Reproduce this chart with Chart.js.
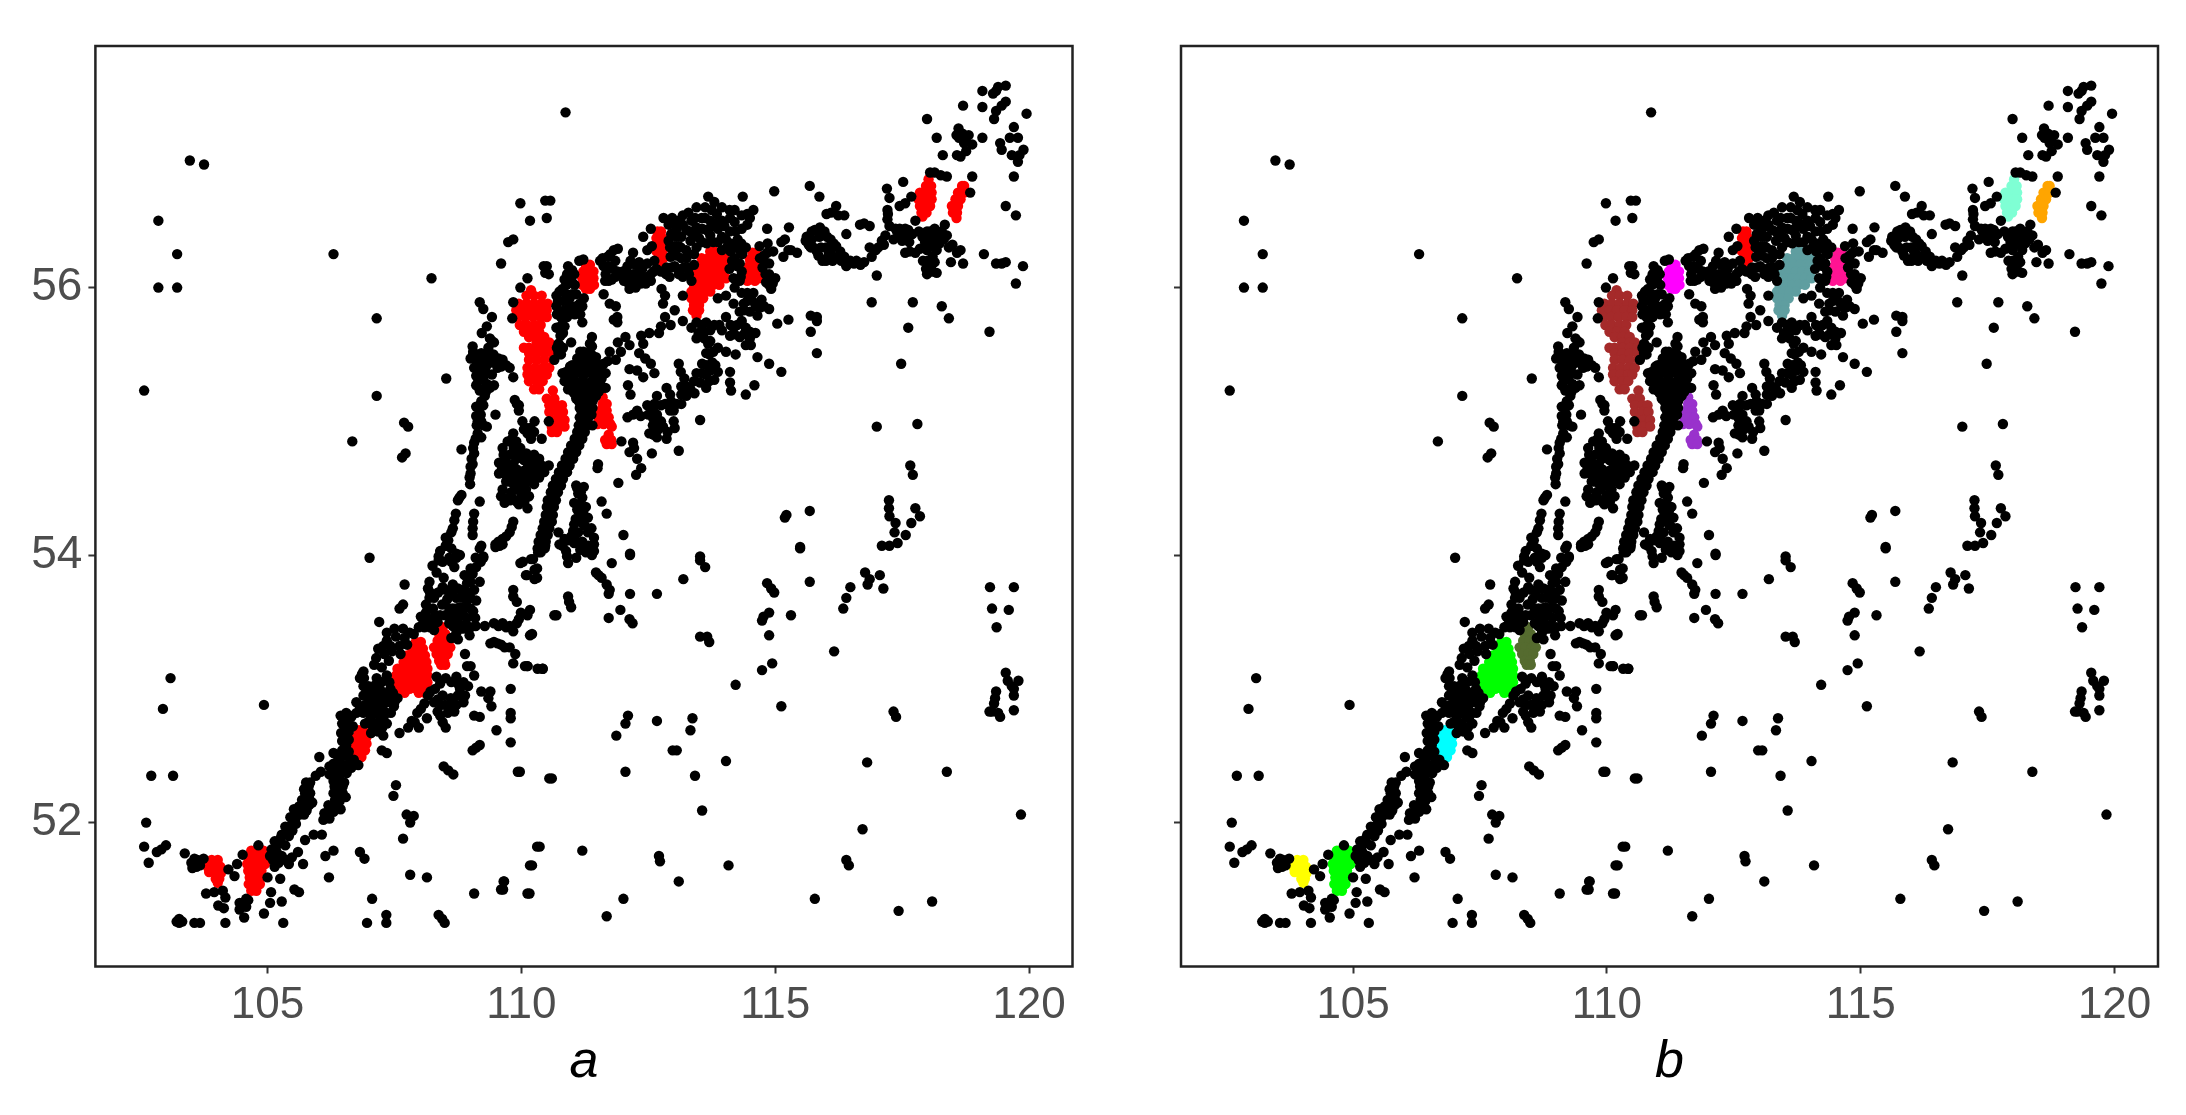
<!DOCTYPE html>
<html>
<head>
<meta charset="utf-8">
<title>a b</title>
<script src="https://cdn.jsdelivr.net/npm/chart.js@4"></script>
<style>
  html, body { margin: 0; padding: 0; background: #fff; }
  canvas { position: absolute; top: 0; }
  #chartA { left: 0; }
  #chartB { left: 1093px; }
</style>
</head>
<body>
<canvas id="chartA" width="1093" height="1115"></canvas>
<canvas id="chartB" width="1093" height="1115"></canvas>
<script>
// Ejes
const xTicks = [105, 110, 115, 120];
const yTicks = [52, 54, 56];
const panelNames = ['a', 'b'];

// Puntos negros, [lon, lat], por zonas
const puntosOeste = [[103.47,56.95],[103.75,56.92],[102.85,56.5],[103.22,56.25],[106.3,56.25],[102.85,56],[103.22,56],[108.23,56.07],[107.15,55.77],[108.52,55.32],[102.57,55.23],[107.15,55.19],[107.69,54.99],[107.77,54.96],[106.67,54.85],[107.72,54.76],[107.65,54.73],[107.01,53.98],[103.09,53.08],[102.94,52.85],[104.93,52.88],[102.71,52.35],[103.14,52.35],[102.61,52],[102.57,51.82],[102.66,51.7],[102.82,51.78],[102.91,51.8],[103,51.83],[103.37,51.77],[103.56,51.73],[103.6,51.67],[103.74,51.73]];
const puntosSur = [[103.79,51.47],[103.95,51.48],[104.12,51.49],[104.17,51.44],[104.03,51.38],[104.14,51.36],[103.26,51.28],[103.26,51.25],[103.21,51.26],[103.32,51.26],[103.56,51.25],[103.67,51.25],[104.17,51.25],[104.54,51.29],[104.93,51.32],[105.31,51.25],[104.45,51.4],[104.58,51.43],[104.58,51.37],[104.51,51.39],[104.35,51.6],[104.23,51.65],[104.4,51.69],[104.51,51.76],[104.82,51.83],[105.07,51.48],[105.05,51.4],[105.28,51.41],[105.53,51.5],[105.62,51.48],[105,51.59],[105.25,51.58],[106.82,51.78],[106.91,51.73],[107.06,51.43],[106.96,51.25],[107.34,51.31],[107.34,51.25],[108.37,51.31],[108.44,51.28],[108.49,51.25],[109.07,51.47],[109.65,51.56],[109.6,51.5],[110.12,51.47],[110.17,51.68],[110.31,51.82],[106.14,51.75],[106.3,51.79],[106.21,51.59],[107.81,51.61],[108.14,51.59],[107.67,51.88],[107.74,52.06],[107.88,52.05],[107.81,52],[107.53,52.28],[107.48,52.2],[108.47,52.42],[108.56,52.39],[108.66,52.36],[109.93,52.38],[110.55,52.33],[109.97,52.38],[110.6,52.33],[105.91,51.91],[106.07,51.91]];
const bandaSuroeste = [[105.11,51.72],[105.18,51.78],[105.14,51.86],[105.28,51.91],[105.35,51.83],[105.28,51.75],[105.14,51.67],[105.42,51.69],[105.6,51.78],[105.7,51.69],[105.74,51.87],[105.21,51.84],[105.08,51.8],[105.49,51.94],[105.42,51.9],[105.56,51.99],[105.5,52.02],[105.63,52.06],[105.56,52.07],[105.77,52.09],[105.7,52.12],[105.88,52.15],[105.82,52.13],[105.77,52.19],[105.84,52.22],[105.81,52.27],[105.72,52.25],[106.16,52.04],[106.3,52.08],[106.22,52.03],[106.44,52.1],[106.33,52.17],[106.25,52.12],[106.54,52.19],[106.42,52.16],[106.44,52.24],[106.36,52.23],[106.51,52.3],[106.4,52.28],[106.3,52.31],[106.3,52.38],[106.47,52.38],[106.4,52.34],[106.65,52.41],[106.56,52.37],[106.79,52.43],[106.7,52.47],[106.02,52.49],[106.05,52.38],[105.95,52.35],[106.3,52.52],[106.47,52.54],[106.58,52.5],[106.44,52.8],[106.47,52.74],[106.51,52.68],[106.47,52.61],[106.58,52.72],[106.6,52.62],[107.25,52.54],[107.35,52.52]];
const rellenoSuroeste = [[105.05,51.75],[105.22,51.7],[105.36,51.72],[105.48,51.74],[105.25,51.88],[105.38,51.92],[105.35,51.97],[105.47,51.98],[105.45,52.04],[105.55,52.03],[105.52,52.1],[105.62,52.12],[105.72,52.06],[105.78,52.14],[105.68,52.17],[105.82,52.18],[105.74,52.22],[105.76,52.3],[105.84,52.3],[106.1,52.02],[106.2,52.07],[106.12,52.07],[106.28,52.12],[106.35,52.12],[106.2,52.13],[106.38,52.2],[106.3,52.22],[106.48,52.22],[106.32,52.27],[106.48,52.27],[106.35,52.32],[106.42,52.32],[106.22,52.36],[106.38,52.4],[106.22,52.42],[106.48,52.42],[106.3,52.44],[106.56,52.43],[106.42,52.46],[106.65,52.46],[106.5,52.5],[106.38,52.5],[106.6,52.53],[106.55,52.58],[106.55,52.65],[106.45,52.67],[106.6,52.68],[106.55,52.76],[106.62,52.8],[106.55,52.82],[103.5,51.7],[103.62,51.72],[103.52,51.66],[103.67,51.68],[104.45,51.35],[104.55,51.4],[104.62,51.42]];
const bandaMedia = [[107.04,52.67],[107.18,52.68],[107.28,52.65],[107.14,52.74],[107.35,52.74],[107.04,52.79],[107.21,52.8],[107.35,52.82],[107.49,52.87],[106.89,52.82],[106.75,52.82],[106.65,52.79],[107,52.9],[107.18,52.9],[107.35,52.9],[107.56,52.93],[106.75,52.9],[106.89,52.95],[107.07,52.98],[107.25,52.98],[107.42,53],[107.25,53.05],[106.89,53.02],[106.82,53.08],[106.89,53.13],[106.68,52.72],[106.92,52.74],[107.09,52.86],[107.26,52.86],[106.97,52.86],[107.6,52.67],[107.77,52.71],[107.98,52.71],[107.84,52.76],[107.95,52.82],[108.09,52.89],[107.9,52.75],[108.02,52.85],[108.16,52.95],[108.14,52.78],[108.51,52.71],[108.45,52.75],[108.51,53.08],[108.72,53.09],[108.86,53.05],[108.79,53],[108.21,52.98],[108.28,52.9],[108.35,52.83],[108.68,52.83],[108.61,52.93],[108.86,52.9],[108.89,52.95],[108.33,53.09],[108.45,52.95],[108.62,53.05],[108.5,52.88],[109.07,52.8],[109.18,52.79],[109.21,52.98],[109.39,52.98],[109.35,52.93],[109.41,52.87],[109.51,52.69],[109.79,53],[109.79,52.82],[109.79,52.78],[109.79,52.6],[109.18,52.58],[109.11,52.56],[109.04,52.54],[108.89,53.26],[108.93,53.17],[109,53.17],[109.07,53.1],[107.35,53.42],[107.67,53.45],[107.88,53.41],[107.53,53.39],[107.28,53.32],[107.42,53.32],[107.14,53.23],[107.25,53.16],[107.39,53.21],[106.86,53.11],[107.2,53.5],[107.7,53.78],[107.67,53.63],[107.6,53.6]];
const rellenoMedia = [[106.98,52.75],[107.07,52.72],[107.26,52.71],[107,52.82],[107.13,52.84],[107.28,52.78],[107.43,52.82],[106.82,52.87],[106.92,52.88],[107.1,52.93],[107.25,52.93],[107.43,52.93],[107.5,52.9],[106.98,52.96],[107.17,52.97],[107.33,52.95],[107.47,52.97],[106.99,53.02],[107.13,53.03],[107.4,53.05],[106.9,53.08],[107.15,53.08],[107.35,53.1],[107.1,53.18],[107.3,53.26],[107.18,53.3],[107.45,53.28],[107.6,53.32],[107.7,53.38],[107.8,53.42],[107.5,53.45],[107.75,53.33],[107.35,53.36],[107.62,53.26],[108.75,53.04],[108.95,53.02],[108.4,53.04],[108.3,53],[108.35,52.92],[108.42,52.88],[108.55,52.82],[108.6,52.88],[108.75,52.95],[108.72,52.88],[108.4,52.8]];
const bandaNorte = [[108.51,54.07],[108.79,54],[108.58,53.98],[108.37,53.96],[108.68,53.91],[108.33,53.87],[108.47,53.83],[108.19,53.8],[108.16,53.75],[108.19,53.68],[108.12,53.63],[108.26,53.6],[108.02,53.54],[108.16,53.52],[108.09,53.46],[108.51,53.74],[108.54,53.67],[108.44,53.63],[108.65,53.6],[108.3,53.55],[108.36,53.72],[109.18,54.05],[109.25,53.98],[109.11,53.91],[109.04,53.86],[109.18,53.8],[108.93,53.79],[108.82,53.74],[109.07,53.74],[108.72,53.68],[108.93,53.66],[109.11,53.66],[108.79,53.61],[109,53.6],[108.93,53.53],[109.09,53.53],[108.68,53.54],[109,53.46],[108.86,53.45],[108.72,53.42],[108.58,53.49],[108.95,53.72],[109,53.8],[108.83,53.55],[109.84,53.69],[109.91,53.65],[110.12,53.55],[109.95,53.52],[109.28,53.47],[109.46,53.49],[109.63,53.49],[109.77,53.47],[109.84,53.43],[109.91,53.49],[109.55,53.47],[109.7,53.46],[110.17,53.4],[109.39,53.34],[109.53,53.34],[109.67,53.31],[109.77,53.31],[109.46,53.35],[109.6,53.33],[109.88,53.26],[109.84,53.19],[110.07,53.17],[110.32,53.15],[110.42,53.15],[110.12,53.17],[110.65,53.55],[109.98,53.94],[110.09,53.85],[110.26,53.89],[110.26,53.82],[110.19,53.97],[110.33,54.02],[110.47,54.07],[109.49,54.06],[109.63,54.08],[109.57,54.07],[110.38,54.02],[110.23,53.97],[110.03,53.95],[110.31,53.9],[110.11,53.85],[110.31,53.83]];
const rellenoNorte = [[108.25,53.5],[108.35,53.5],[108.05,53.48],[108.2,53.46],[108.28,53.44],[107.98,53.46],[108.4,53.55],[108.5,53.55],[108.6,53.56],[108.75,53.5],[108.8,53.45],[108.65,53.47],[108.58,53.6],[108.72,53.6],[108.87,53.6],[108.85,53.68],[109,53.68],[109.05,53.58],[108.9,53.48],[108.8,53.55],[108.6,53.72],[108.65,53.78],[108.45,53.76],[108.75,53.75],[108.88,53.85],[109,53.9],[109.1,53.98],[109.2,53.95],[108.25,53.92],[108.45,53.95],[108.62,53.95],[108.72,53.98],[108.4,54.03],[108.62,54.05],[108.2,53.72],[108.28,53.68],[108.12,53.57],[109.1,53.47],[108.98,53.4],[108.62,53.38],[108.75,53.37]];
const franjaIzquierda = [[109.98,56.63],[110.47,56.65],[110.57,56.65],[110.17,56.5],[110.5,56.52],[109.84,56.36],[109.74,56.34],[109.6,56.18],[110.12,56.07],[109.98,56],[110.44,56.16],[110.47,56.11],[109.84,55.89],[109.82,55.77],[109.18,55.89],[109.25,55.84],[109.42,55.78],[109.32,55.71],[109.22,55.66],[109.04,55.56],[109.46,55.59],[109.35,55.55],[109.21,55.51],[109,55.47],[109.18,55.46],[109.39,55.47],[109.63,55.46],[109.07,55.4],[109.32,55.42],[109.53,55.4],[109.77,55.4],[109.18,55.35],[109.42,55.35],[109.84,55.33],[109.32,55.28],[109.11,55.27],[109.18,55.23],[109.46,55.27],[109.28,55.19],[109.25,55.4],[109.11,55.34],[109.3,55.5],[109.45,55.44],[109.6,55.41],[109.25,55.24],[109.21,55.15],[109.11,55.11],[109.11,55.04],[109.21,55],[109.32,54.96],[109.14,54.91],[109.07,54.84],[109.21,54.88],[108.82,54.79],[109.07,54.76],[109.04,54.68],[109,54.61],[108.99,54.53],[108.82,54.45],[108.75,54.41],[109.18,54.4],[108.71,54.31],[109.07,54.31],[108.65,54.2],[109.04,54.2],[109.04,54.15],[108.51,54.13],[108.54,54.07],[109.21,54.07],[109.25,53.99],[108.37,53.99],[108.72,54.01],[109.49,55.05],[109.91,55.13],[109.95,55.08]];
const rellenoIzquierda = [[109.05,55.5],[109.1,55.46],[109.25,55.46],[109.3,55.37],[109.45,55.5],[109.5,55.45],[109.15,55.4],[109.35,55.46],[109.7,55.42],[109.55,55.47],[109.15,55.3],[109.25,55.33],[109.38,55.25],[109.3,55.22],[109.25,55.12],[109.18,55.1],[109.2,55.05],[109.25,54.97],[109.12,54.97],[109.1,54.87],[109.05,54.8],[109.14,55],[109.02,54.72],[109,54.66],[109.42,55.6],[109.38,55.62],[109.05,55.52],[108.98,54.58],[108.78,54.43],[108.68,54.26],[108.62,54.17],[108.56,54.11],[109.05,54.25],[109.95,55.12],[109.87,55.16]];
const manchaInterior = [[109.84,54.91],[109.84,54.83],[109.98,54.8],[109.63,54.8],[109.77,54.75],[110.19,54.73],[110.05,54.71],[109.56,54.69],[109.84,54.68],[110.4,54.67],[109.56,54.61],[109.77,54.61],[110.05,54.63],[110.23,54.61],[110.54,54.67],[109.77,54.55],[109.98,54.56],[110.19,54.56],[109.88,54.49],[110.09,54.49],[109.63,54.49],[109.67,54.39],[109.91,54.4],[110.12,54.35],[109.98,54.73],[109.7,54.69],[109.91,54.64],[110.13,54.66],[110.3,54.68],[109.7,54.6],[110.09,54.6],[109.83,54.42],[110.1,54.95],[110.26,55],[110.12,54.91],[110.19,54.87],[110.4,54.87],[110.54,55],[109.84,54.25],[109.77,54.17],[109.63,54.12],[109.49,54.08],[110.25,54.92],[109.73,54.85],[109.85,54.58],[110.02,54.52]];
const rellenoMancha = [[109.82,54.87],[109.9,54.85],[110.05,54.94],[110.02,55],[110.18,54.95],[109.85,54.8],[109.95,54.76],[109.65,54.75],[109.9,54.72],[110.1,54.76],[110.25,54.75],[110.35,54.72],[110.2,54.68],[110.3,54.63],[110.45,54.62],[109.62,54.65],[109.75,54.65],[109.9,54.6],[110,54.6],[110.15,54.6],[110.35,54.58],[109.7,54.55],[109.85,54.53],[110.1,54.55],[110.25,54.53],[109.8,54.47],[110,54.45],[110.15,54.44],[109.75,54.43],[109.95,54.38],[110.06,54.4],[109.78,54.41],[109.6,54.44],[109.81,54.21],[109.7,54.14],[109.55,54.1]];
const tronco = [[110.32,54.05],[110.46,54.05],[110.34,54.1],[110.48,54.1],[110.38,54.15],[110.52,54.15],[110.42,54.2],[110.55,54.2],[110.45,54.25],[110.6,54.25],[110.48,54.3],[110.62,54.3],[110.5,54.36],[110.64,54.36],[110.52,54.41],[110.68,54.41],[110.58,54.47],[110.72,54.47],[110.62,54.52],[110.78,54.52],[110.68,54.57],[110.82,54.57],[110.74,54.62],[110.9,54.62],[110.8,54.67],[110.95,54.67],[110.87,54.72],[111.02,54.72],[110.92,54.77],[111.08,54.77],[110.98,54.82],[111.14,54.82],[111.05,54.87],[111.2,54.87],[111.1,54.92],[111.25,54.92],[111.13,54.97],[111.3,54.97],[111.15,55.03],[111.32,55.03],[111.18,55.08],[111.33,55.08],[111.17,55.13],[111.32,55.13],[110.96,55.41],[111.39,55.63],[111.39,55.56],[111.16,55.52],[111.31,55.51],[111.47,55.48],[111.2,55.44],[111.43,55.43],[111.62,55.43],[111,55.42],[110.81,55.36],[111.04,55.35],[111.27,55.36],[111.51,55.36],[111.66,55.36],[110.89,55.31],[111.12,55.29],[111.35,55.29],[111.55,55.28],[110.92,55.24],[111.16,55.23],[111.39,55.23],[111.66,55.25],[111.08,55.17],[111.27,55.16],[111.47,55.19],[111.1,55.38],[111.22,55.3],[111.42,55.33],[111.3,55.42],[111,55.27],[111.04,55.21],[110.98,55.33],[111.52,55.22],[111.58,55.32]];
const rellenoTronco = [[110.4,54.07],[110.42,54.12],[110.46,54.18],[110.5,54.23],[110.54,54.28],[110.57,54.33],[110.58,54.38],[110.6,54.44],[110.65,54.49],[110.7,54.55],[110.76,54.6],[110.82,54.65],[110.88,54.7],[110.95,54.75],[111.02,54.8],[111.08,54.85],[111.15,54.9],[111.18,54.95],[111.22,55],[111.24,55.05],[111.25,55.11],[111.25,55.17],[111.38,55.05],[111.4,55.1],[111.4,54.97],[111.4,55.15],[111.15,55.1],[111.35,55.2],[110.88,55.37],[110.95,55.38],[111.05,55.41],[111.15,55.38],[111.2,55.35],[111.35,55.37],[111.42,55.38],[111.58,55.37],[111.6,55.25],[110.85,55.3],[110.95,55.29],[111.05,55.3],[111.18,55.27],[111.28,55.25],[111.45,55.28],[111.52,55.31],[111,55.23],[111.1,55.24],[111.22,55.2],[111.33,55.19],[111.42,55.17],[111.13,55.15],[111.2,55.13],[111.37,55.12],[111.35,55.45],[111.25,55.48],[111.38,55.5],[111.5,55.43],[111.22,55.52],[111.35,55.58],[111.1,55.47],[111.57,55.4]];
const ramalesCentro = [[111.08,54.52],[111.23,54.51],[111.2,54.43],[111.27,54.36],[111.31,54.28],[111.43,54.13],[111.16,54.28],[111.04,54.23],[111.12,54.17],[111.31,54.17],[111.04,54.39],[111.58,54.4],[111.68,54.31],[111.12,54.46],[111.1,54.34],[111.22,54.23],[111.38,54.2],[111.43,54.03],[111.16,54.04],[110.88,54.03],[110.92,54.11],[110.73,54.17],[110.92,53.94],[111.08,53.98],[110.81,54.07],[111.04,54.09],[111.27,54.02],[111.39,54],[111.43,54.08],[111.78,53.94],[112.14,54],[111.47,53.87],[111.58,53.83],[111.68,53.78],[111.74,53.74],[111.72,53.71],[112.14,53.71],[111.52,53.85],[109.84,53.74],[110.92,53.69],[110.94,53.65],[110.98,53.61],[110.69,53.55],[110.17,53.59],[109.99,53.57],[110.21,53.41],[111.72,53.53],[111.95,53.59],[112.13,53.52],[112.19,53.49],[111.51,54.68],[111.5,54.65],[111.97,54.85],[112.2,54.84],[112.13,54.77],[112.28,54.72],[112.36,54.65],[112.26,54.6],[112.22,54.8],[111.91,54.54],[112.57,54.76],[113.1,54.78],[113.52,55.01],[111.1,54.5],[111.17,54.47],[111.15,54.38],[111.22,54.33],[111.2,54.3],[111.25,54.22],[111.07,54.27],[111.1,54.1],[111.2,54.1],[111.32,54.07],[111.35,54.02],[111.02,54.18],[110.98,54.14],[110.9,53.99],[110.85,54.12],[110.75,54.08]];
const franjaInferior = [[112.09,55.03],[112.28,55.08],[112.48,55.12],[112.55,55.05],[112.59,54.97],[112.52,54.91],[112.67,54.88],[112.86,54.87],[113.02,54.95],[112.79,54.96],[112.67,55.05],[112.83,55.13],[112.67,55.19],[112.86,55.25],[112.75,55.12],[113.06,55.13],[113.25,55.19],[113.41,55.21],[113.64,55.25],[113.8,55.31],[113.87,55.37],[113.76,55.44],[113.64,55.51],[113.56,55.43],[113.45,55.36],[113.21,55.32],[113.1,55.43],[113.14,55.37],[113.68,55.58],[113.87,55.55],[114.03,55.52],[114.22,55.5],[113.64,55.35],[113.52,55.29],[113.33,55.24],[112.2,55.05],[112.62,55.13],[112.93,55.2],[113,55.08],[112.6,55.02],[113.15,55.2],[113.7,55.3],[112.36,55.64],[112.52,55.66],[112.4,55.58],[112.32,55.51],[112.44,55.47],[112.55,55.43],[112.13,55.39],[112.28,55.38],[112.4,55.33],[112.62,55.36],[112.1,55.27],[112.15,55.2],[111.74,55.52],[111.9,55.59],[112.05,55.63],[112.13,55.57],[111.86,55.46],[111.7,55.45],[111.96,55.52],[114.11,55.37],[114.11,55.29],[114.13,55.23],[114.59,55.27],[114.42,55.2],[114.65,55.48],[114.88,55.43],[115.12,55.37],[114.42,55.57],[114.52,55.57],[115.82,55.51],[115.7,55.67],[115.04,55.73],[115.26,55.76],[115.7,55.79],[115.82,55.78],[115.82,55.75]];
const rellenoInferior = [[113.7,55.5],[113.78,55.52],[113.82,55.42],[113.72,55.38],[113.55,55.36],[113.4,55.3],[113.65,55.42],[113.25,55.26],[113.15,55.26],[112.95,55.15],[112.6,55.1],[112.5,55.05],[112.6,54.9],[112.7,54.94],[112.75,55],[112.88,54.92],[113,55],[112.35,55.04],[112.93,55.08],[113.15,55.13]];
const grupoCentral = [[114.34,55.96],[114.57,55.96],[114.18,55.88],[113.87,55.92],[114.03,55.94],[114.73,55.91],[114.88,55.84],[114.65,55.79],[114.38,55.83],[114.34,55.75],[114.5,55.67],[114.18,55.7],[114.03,55.78],[114.11,55.64],[114.3,55.63],[114.61,55.66],[113.49,55.66],[113.64,55.74],[113.45,55.74],[113.72,55.68],[114.38,55.88],[114.45,55.96],[114.78,55.86],[113.02,55.83],[113.18,55.75],[112.83,55.78],[112.75,55.71],[112.71,55.66],[112.94,55.72],[112.76,55.99],[112.83,55.94],[112.79,55.88],[113.18,55.94],[111.62,55.95],[111.74,55.88],[111.86,55.86],[111.89,55.78],[111.89,55.74],[111.82,55.76],[110.69,55.7],[110.77,55.64],[110.73,55.58],[110.73,55.51],[110.65,55.46],[110.85,55.71],[110.98,55.59],[110.5,56.16],[110.54,56.1],[114.45,55.9],[114.55,55.9],[114.62,55.86],[114.7,55.85],[114.5,55.82],[114.3,55.82],[114.25,55.72],[114.12,55.72],[114.42,55.7],[114.38,55.65],[114.2,55.65],[114.5,55.62],[113.9,55.72],[113.8,55.72],[113.55,55.72],[113.35,55.7],[113.6,55.67],[113.45,55.62],[113.6,55.62],[113.72,55.6],[113.95,55.68]];
const bandaAltaOeste = [[110.92,56.16],[111.04,56.1],[110.81,55.99],[110.69,55.94],[110.89,56.02],[110.69,55.86],[111.08,55.86],[111.23,55.92],[111.16,55.8],[111.2,55.74],[110.85,55.83],[111,56.04],[110.95,55.92],[110.82,55.9],[111.05,55.8],[111.14,56.2],[111.22,56.21],[111.9,56.29],[111.82,56.28],[111.7,56.23],[111.62,56.16],[111.66,56.1],[111.78,56.06],[111.55,56.2],[111.89,56.12],[111.8,56.14],[112.09,56.04],[112.13,55.99],[112.28,56.04],[112.2,56.1],[112.09,56.16],[112.2,56.26],[112.32,56.19],[112.4,56.08],[112.55,56.1],[112.48,56.18],[112.4,56.38],[112.55,56.44],[112.48,56.28],[112.57,56.31],[112.35,56.12],[112.66,56.14],[112.75,56.12],[112.86,56.15],[112.94,56.23],[113.02,56.16],[113.1,56.1],[113.02,56.31],[112.9,56.35],[113.06,56.38]];
const rellenoAltaOeste = [[110.75,55.97],[110.88,55.95],[110.72,55.9],[110.95,55.87],[110.75,55.8],[110.9,55.78],[110.98,55.82],[111,55.95],[111.08,55.95],[111.15,55.88],[111.2,55.86],[110.8,55.72],[110.78,55.78],[110.7,55.8],[110.72,55.7],[110.85,56.06],[110.9,56.1],[111,56.13],[110.95,56.08],[111.05,56.02],[110.82,55.66],[110.75,55.57],[110.82,55.55],[110.7,55.55],[110.78,55.5],[111.6,56.22],[111.75,56.25],[111.72,56.16],[111.85,56.2],[111.65,56.05],[111.72,56.05],[111.85,56.08],[111.95,56.1],[112,56.12],[112.15,56.08],[112.25,56.1],[112.02,56.05],[112.08,56.1],[112.15,56.2],[112.25,56.17],[112.25,56],[112.18,56.02],[112.35,56.03],[112.45,56.03],[112.38,56.14],[112.55,56.05],[112.6,56.12],[112.62,56.2],[112.85,56.1],[112.92,56.08],[112.95,56.15],[113.08,56.14],[113.05,56.24],[113.15,56.22],[113,56.27],[112.93,56.3]];
const cupula = [[113.68,56.68],[113.8,56.64],[113.95,56.6],[113.45,56.6],[113.29,56.56],[113.18,56.54],[112.8,56.52],[112.9,56.47],[113.06,56.44],[113.18,56.47],[114.11,56.52],[114.34,56.54],[114.57,56.58],[114.5,56.52],[114.34,56.44],[114.45,56.47],[113.72,56.5],[113.56,56.44],[113.87,56.44],[114.11,56.42],[113.41,56.4],[113.72,56.39],[114.03,56.36],[114.26,56.36],[113.33,56.35],[113.56,56.34],[113.87,56.34],[114.18,56.3],[113.25,56.28],[113.45,56.3],[113.95,56.28],[114.3,56.28],[113.1,56.31],[113.25,56.22],[114.2,56.22],[114.25,56.16],[114.34,56.12],[114.3,56.05],[113.7,56.44],[114,56.46],[113.42,56.52],[113.14,56.3],[113.2,56.15],[113.3,56.1],[114.69,56.31],[114.84,56.26],[114.88,56.18],[115,56.07],[114.92,55.99],[114.81,56.1],[114.88,56.1],[114.78,56.2],[114.84,56.44],[115.27,56.45],[115.19,56.36],[115.12,56.34],[115.31,56.28],[115.16,56.23],[115.43,56.26],[114.96,56.27],[115.26,56.28],[114.36,56.68],[114.98,56.72]];
const rellenoCupula = [[113.15,56.38],[113.25,56.43],[112.95,56.4],[113.1,56.5],[112.97,56.52],[113.02,56.47],[113.35,56.5],[113.32,56.42],[113.45,56.45],[113.55,56.52],[113.62,56.6],[113.75,56.58],[113.62,56.52],[113.85,56.55],[113.8,56.48],[113.95,56.5],[113.95,56.38],[114.05,56.3],[114.12,56.33],[114.22,56.42],[114.33,56.33],[114.35,56.25],[114.3,56.18],[114.32,56.08],[114.42,56.3],[113.65,56.43],[113.5,56.37],[113.65,56.33],[113.78,56.34],[114.12,56.27],[113.4,56.25],[113.4,56.17],[113.3,56.15],[113.35,56.05],[113.18,56.08],[114.15,56.2],[114.1,56.14],[114.18,56.07],[114.2,56],[114.7,56.22],[114.75,56.15],[114.82,56.04],[114.88,56.02],[114.95,56.03],[114.85,56.33],[114.78,56.24],[114.45,56.55],[114.2,56.49],[114.2,56.58],[114.1,56.58]];
const bandaAltaEste = [[115.68,56.76],[115.87,56.68],[116.2,56.61],[116.01,56.55],[116.24,56.54],[116.36,56.54],[116.1,56.56],[116.67,56.47],[116.86,56.46],[116.75,56.48],[116.4,56.4],[115.78,56.43],[115.62,56.38],[115.66,56.32],[115.97,56.42],[116.09,56.36],[116.2,56.31],[115.82,56.27],[115.93,56.2],[116.13,56.2],[116.36,56.23],[116.4,56.16],[116.55,56.18],[116.75,56.19],[116.28,56.27],[116.05,56.27],[115.72,56.36],[116.02,56.22],[116.6,56.2],[116.9,56.23],[116.98,56.28],[116.86,56.3],[117.21,56.58],[117.21,56.51],[117.25,56.46],[117.37,56.44],[117.17,56.39],[117.56,56.44],[117.76,56.5],[117.83,56.42],[117.99,56.42],[118.14,56.44],[118.34,56.47],[118.38,56.39],[118.14,56.36],[117.95,56.34],[117.64,56.34],[117.56,56.26],[117.76,56.26],[117.33,56.36],[117.14,56.32],[118.49,56.32],[118.65,56.28],[117.99,56.28],[118.18,56.28],[117.91,56.2],[118.07,56.16],[117.99,56.1],[118.18,56.11],[118.14,56.19],[118.25,56.4],[118.05,56.38],[117.48,56.4],[118.24,56.33],[117,56.09],[116.9,55.89],[117.71,55.89],[118.28,55.86],[118.42,55.77],[117.62,55.7],[119.22,55.67],[117.48,55.43],[117,54.96],[117.8,54.98],[117.66,54.67],[117.71,54.6],[118.46,56.19],[118.7,56.18],[119.11,56.25],[119.35,56.18],[119.46,56.18],[119.54,56.19],[119.88,56.16],[119.74,56.03]];
const rellenoAltaEste = [[115.7,56.3],[115.75,56.3],[115.9,56.3],[116,56.3],[116.1,56.25],[116.2,56.22],[116.3,56.2],[116.48,56.2],[116.68,56.17],[115.85,56.24],[116,56.2],[115.72,56.42],[115.6,56.35],[115.87,56.38],[116.02,56.38],[116.15,56.33],[115.88,56.45],[117.1,56.35],[117.03,56.3],[117.4,56.42],[117.45,56.44],[117.5,56.35],[117.55,56.38],[117.7,56.4],[117.62,56.43],[117.9,56.38],[118.05,56.42],[118.15,56.4],[118.28,56.42],[118.32,56.36],[118.05,56.32],[117.85,56.29],[118.1,56.23],[118,56.2],[118.08,56.33],[118.22,56.38],[117.65,56.27],[118.42,56.3],[118.58,56.26],[117.97,56.14],[118.1,56.12],[117.22,56.55],[118.05,56.86],[119.35,57.47],[118.62,57.12],[118.72,57.08],[118.58,56.99],[118.75,57.1]];
const esquinaNoreste = [[110.87,57.31],[119.08,57.47],[119.29,57.45],[119.39,57.5],[119.54,57.51],[118.7,57.36],[119.08,57.35],[119.54,57.39],[119.46,57.36],[119.35,57.32],[119.31,57.26],[119.95,57.3],[119.7,57.2],[117.99,57.26],[118.18,57.12],[118.61,57.19],[118.69,57.15],[118.81,57.14],[118.57,57.14],[118.88,57.07],[118.76,57.02],[118.65,56.98],[119.08,57.12],[118.3,56.99],[119.43,57.08],[119.46,57.03],[119.62,57.12],[119.78,57.12],[119.89,57.03],[119.81,56.99],[119.66,56.99],[119.78,56.94],[119.7,56.83],[118.88,56.83],[118.14,56.86],[118.26,56.84],[118.38,56.83],[117.52,56.79],[117.2,56.74],[117.25,56.67],[117.68,56.68],[117.45,56.61],[117.56,56.63],[118.84,56.71],[119.54,56.61],[119.74,56.54]];
const puntosEste = [[112.67,53.71],[113.19,53.82],[113.52,53.96],[113.62,53.91],[113.52,53.39],[113.66,53.39],[113.7,53.35],[114.84,53.79],[114.92,53.75],[114.98,53.72],[115.68,53.8],[115.49,54.05],[114.88,53.57],[114.77,53.54],[114.74,53.51],[115.31,53.55],[114.88,53.4],[114.74,53.14],[114.94,53.19],[114.22,53.03],[115.12,52.87],[116.16,53.28],[116.48,53.76],[116.4,53.68],[116.34,53.6],[116.77,53.87],[116.86,53.82],[116.82,53.78],[117.06,53.85],[117.13,53.75],[119.23,53.76],[119.7,53.76],[119.27,53.6],[119.6,53.59],[119.36,53.46],[119.54,53.12],[119.58,53.06],[119.66,53.02],[119.79,53.06],[119.7,53],[119.7,52.95],[119.7,52.84],[119.35,52.98],[119.33,52.93],[119.31,52.89],[119.27,52.83],[119.39,52.82],[119.43,52.79],[119.22,52.83],[117.33,52.83],[117.38,52.79],[112.1,52.8],[112.05,52.74],[111.87,52.65],[112.67,52.76],[113.37,52.78],[113.33,52.69],[112.98,52.54],[113.06,52.54],[114.03,52.46],[112.05,52.38],[113.42,52.35],[116.81,52.45],[118.38,52.38],[113.56,52.09],[119.84,52.06],[116.72,51.95],[110.36,51.82],[111.2,51.79],[110.21,51.68],[110.16,51.47],[109.66,51.56],[109.64,51.5],[112.71,51.75],[112.73,51.71],[114.08,51.68],[113.1,51.56],[116.4,51.72],[116.45,51.68],[115.78,51.43],[112.01,51.43],[111.68,51.3],[117.43,51.34],[118.09,51.41],[110.42,53.15],[110.12,53.17],[117.24,54.41],[117.24,54.35],[117.25,54.29],[117.37,54.24],[117.35,54.17],[117.76,54.35],[117.85,54.29],[117.68,54.24],[117.57,54.15],[117.1,54.07],[117.25,54.07],[117.41,54.09],[115.19,54.28],[115.22,54.3],[115.68,54.33],[115.49,54.06],[112.01,54.15],[112.14,54.01],[113.52,53.99]];

// Grupos marcados, [lon, lat]
const grupoAmarillo = [[103.9,51.72],[104.02,51.72],[103.82,51.67],[103.95,51.67],[104.07,51.67],[103.85,51.63],[103.98,51.63],[104.08,51.62],[103.98,51.58],[104.05,51.58],[104.02,51.55]];
const grupoVerdeSur = [[104.68,51.79],[104.8,51.79],[104.92,51.79],[104.62,51.74],[104.75,51.74],[104.88,51.74],[104.97,51.74],[104.6,51.69],[104.72,51.69],[104.85,51.69],[104.95,51.69],[104.62,51.64],[104.75,51.64],[104.88,51.64],[104.65,51.59],[104.78,51.59],[104.88,51.59],[104.63,51.54],[104.75,51.54],[104.85,51.54],[104.68,51.49],[104.78,51.49]];
const grupoCian = [[106.8,52.69],[106.88,52.69],[106.74,52.64],[106.86,52.64],[106.95,52.64],[106.72,52.59],[106.84,52.59],[106.95,52.59],[106.69,52.54],[106.8,52.54],[106.92,52.54],[106.78,52.49],[106.85,52.49]];
const grupoVerde = [[107.92,53.35],[108.02,53.35],[107.85,53.3],[107.98,53.3],[108.06,53.3],[107.75,53.25],[107.88,53.25],[108,53.25],[108.1,53.25],[107.68,53.2],[107.8,53.2],[107.93,53.2],[108.05,53.2],[108.13,53.2],[107.56,53.15],[107.68,53.15],[107.8,53.15],[107.93,53.15],[108.05,53.15],[108.15,53.15],[107.53,53.1],[107.65,53.1],[107.78,53.1],[107.9,53.1],[108.02,53.1],[108.15,53.1],[107.53,53.05],[107.65,53.05],[107.78,53.05],[107.9,53.05],[108.02,53.05],[108.15,53.05],[107.56,53],[107.68,53],[107.8,53],[107.93,53],[108.05,53],[108.15,53],[107.7,52.97],[107.98,52.97],[108.1,52.97]];
const grupoOliva = [[108.45,53.46],[108.38,53.41],[108.5,53.41],[108.35,53.36],[108.47,53.36],[108.58,53.36],[108.28,53.31],[108.4,53.31],[108.52,53.31],[108.6,53.31],[108.33,53.26],[108.45,53.26],[108.55,53.26],[108.38,53.21],[108.48,53.21],[108.42,53.18],[108.5,53.18]];
const grupoMarron = [[110.19,55.98],[110.1,55.94],[110.25,55.94],[110.4,55.94],[109.95,55.88],[110.1,55.88],[110.25,55.88],[110.4,55.88],[110.52,55.88],[109.9,55.83],[110.05,55.83],[110.2,55.83],[110.35,55.83],[110.5,55.83],[109.93,55.78],[110.08,55.78],[110.23,55.78],[110.38,55.78],[110.5,55.78],[109.97,55.72],[110.1,55.72],[110.25,55.72],[110.38,55.72],[110.05,55.67],[110.2,55.67],[110.35,55.67],[110.15,55.63],[110.3,55.63],[110.45,55.63],[110.3,55.59],[110.45,55.59],[110.55,55.59],[110.05,55.55],[110.15,55.55],[110.3,55.55],[110.45,55.55],[110.6,55.55],[110.15,55.51],[110.3,55.51],[110.45,55.51],[110.6,55.51],[110.15,55.46],[110.3,55.46],[110.45,55.46],[110.62,55.46],[110.12,55.4],[110.27,55.4],[110.42,55.4],[110.55,55.4],[110.12,55.35],[110.27,55.35],[110.42,55.35],[110.5,55.35],[110.15,55.3],[110.3,55.3],[110.42,55.3],[110.25,55.24],[110.35,55.24],[110.62,55.23],[110.5,55.17],[110.65,55.17],[110.55,55.12],[110.7,55.12],[110.8,55.12],[110.55,55.07],[110.7,55.07],[110.82,55.07],[110.6,55.01],[110.72,55.01],[110.85,55.01],[110.6,54.96],[110.72,54.96],[110.85,54.96],[110.6,54.92],[110.7,54.92]];
const grupoMagenta = [[111.27,56.17],[111.35,56.17],[111.22,56.12],[111.33,56.12],[111.42,56.12],[111.2,56.07],[111.32,56.07],[111.42,56.07],[111.2,56.02],[111.3,56.02],[111.43,56.02],[111.27,55.99],[111.35,55.99]];
const grupoPurpura = [[111.6,55.18],[111.6,55.13],[111.68,55.13],[111.55,55.08],[111.68,55.08],[111.52,55.03],[111.63,55.03],[111.72,55.03],[111.5,54.98],[111.62,54.98],[111.75,54.98],[111.78,54.96],[111.72,54.9],[111.65,54.86],[111.77,54.86],[111.68,54.83],[111.78,54.83]];
const grupoRojo = [[112.68,56.42],[112.75,56.42],[112.66,56.37],[112.78,56.37],[112.66,56.32],[112.78,56.32],[112.85,56.32],[112.66,56.27],[112.78,56.27],[112.7,56.22],[112.8,56.22],[112.73,56.19]];
const grupoAzulado = [[113.72,56.27],[113.8,56.27],[113.55,56.22],[113.68,56.22],[113.8,56.22],[113.92,56.22],[114,56.22],[113.55,56.17],[113.68,56.17],[113.8,56.17],[113.92,56.17],[114,56.17],[113.47,56.12],[113.6,56.12],[113.72,56.12],[113.85,56.12],[113.98,56.12],[113.4,56.07],[113.52,56.07],[113.65,56.07],[113.78,56.07],[113.9,56.07],[114.03,56.07],[113.4,56.02],[113.52,56.02],[113.65,56.02],[113.78,56.02],[113.9,56.02],[113.35,55.97],[113.48,55.97],[113.6,55.97],[113.72,55.97],[113.35,55.92],[113.47,55.92],[113.58,55.92],[113.4,55.87],[113.5,55.87],[113.38,55.83],[113.5,55.83],[113.45,55.79]];
const grupoRosa = [[114.55,56.26],[114.62,56.26],[114.5,56.21],[114.6,56.21],[114.65,56.21],[114.48,56.16],[114.6,56.16],[114.45,56.12],[114.58,56.12],[114.68,56.12],[114.42,56.07],[114.55,56.07],[114.68,56.07],[114.45,56.05],[114.6,56.05]];
const grupoAguamarina = [[118.02,56.81],[117.97,56.76],[118.07,56.76],[117.85,56.71],[117.97,56.71],[118.08,56.71],[117.82,56.66],[117.95,56.66],[118.08,56.66],[117.85,56.61],[117.97,56.61],[118.05,56.61],[117.88,56.56],[117.98,56.56],[117.9,56.53]];
const grupoNaranja = [[118.68,56.76],[118.72,56.76],[118.6,56.71],[118.72,56.71],[118.55,56.66],[118.65,56.66],[118.48,56.61],[118.6,56.61],[118.5,56.56],[118.58,56.56],[118.57,56.52]];

const puntosNegros = [].concat(puntosOeste, puntosSur, bandaSuroeste, rellenoSuroeste, bandaMedia, rellenoMedia, bandaNorte, rellenoNorte, franjaIzquierda, rellenoIzquierda, manchaInterior, rellenoMancha, tronco, rellenoTronco, ramalesCentro, franjaInferior, rellenoInferior, grupoCentral, bandaAltaOeste, rellenoAltaOeste, cupula, rellenoCupula, bandaAltaEste, rellenoAltaEste, esquinaNoreste, puntosEste);
const grupos = [grupoAmarillo, grupoVerdeSur, grupoCian, grupoVerde, grupoOliva, grupoMarron, grupoMagenta, grupoPurpura, grupoRojo, grupoAzulado, grupoRosa, grupoAguamarina, grupoNaranja];
const coloresB = ['#FFFF00', '#00FF00', '#00FFFF', '#00FF00', '#556B2F', '#A52A2A', '#FF00FF', '#9932CC', '#FF0000', '#5F9EA0', '#FF1493', '#7FFFD4', '#FFA500'];

const toXY = arr => arr.map(p => ({ x: p[0], y: p[1] }));

// Marco del panel
const marco = {
  id: 'marco',
  afterDraw(chart) {
    const { ctx, chartArea: a } = chart;
    ctx.save();
    ctx.strokeStyle = '#222';
    ctx.lineWidth = 2.5;
    ctx.strokeRect(a.left, a.top, a.right - a.left, a.bottom - a.top);
    ctx.restore();
  }
};

function crearPanel(id, nombre, colores, anchoEje, margenDer, conEtiquetasY) {
  const datasets = [{ data: toXY(puntosNegros), backgroundColor: '#000', pointRadius: 5.2, pointBorderWidth: 0 }];
  grupos.forEach((g, i) => {
    datasets.push({ data: toXY(g), backgroundColor: colores[i], pointRadius: 5.2, pointBorderWidth: 0 });
  });

  new Chart(document.getElementById(id), {
    type: 'scatter',
    data: { datasets },
    options: {
      responsive: false,
      animation: false,
      devicePixelRatio: 1,
      layout: { padding: { top: 46, right: margenDer, bottom: 0, left: 0 } },
      plugins: { legend: { display: false }, tooltip: { enabled: false } },
      scales: {
        x: {
          type: 'linear',
          min: 101.61,
          max: 120.855,
          afterBuildTicks: s => { s.ticks = xTicks.map(v => ({ value: v })); },
          afterFit: s => { s.height = 148.5; },
          border: { display: false },
          grid: { drawOnChartArea: false, drawTicks: true, tickLength: 7, tickColor: '#333', tickWidth: 2 },
          ticks: { color: '#4D4D4D', maxRotation: 0, padding: 6, font: { family: '"Liberation Sans"', size: 44 }, callback: v => String(v) },
          title: { display: true, text: nombre, color: '#000', padding: { top: 4, bottom: 21 }, font: { family: '"Liberation Sans"', size: 52, style: 'italic' } }
        },
        y: {
          type: 'linear',
          min: 50.924,
          max: 57.806,
          afterBuildTicks: s => { s.ticks = yTicks.map(v => ({ value: v })); },
          afterFit: s => { s.width = anchoEje; },
          border: { display: false },
          grid: { drawOnChartArea: false, drawTicks: true, tickLength: 7, tickColor: '#333', tickWidth: 2 },
          ticks: { display: conEtiquetasY, color: '#4D4D4D', padding: 6, font: { family: '"Liberation Sans"', size: 46 }, callback: v => String(v) }
        }
      }
    },
    plugins: [marco]
  });
}

const rojos = grupos.map(() => '#FF0000');
crearPanel('chartA', panelNames[0], rojos, 95.4, 20.5, true);
crearPanel('chartB', panelNames[1], coloresB, 88, 28, false);
</script>
</body>
</html>
